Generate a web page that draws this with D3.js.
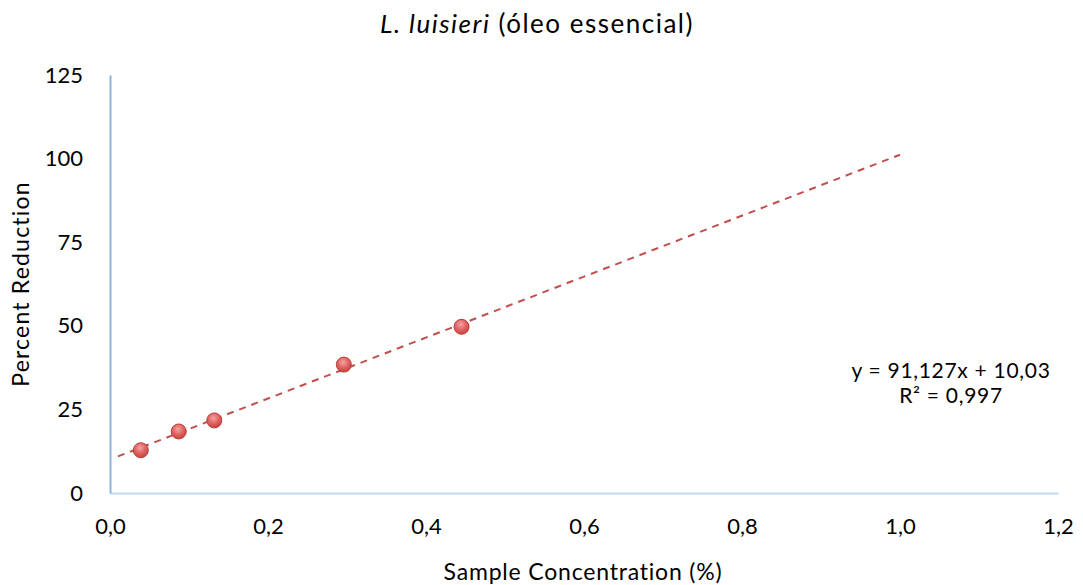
<!DOCTYPE html>
<html>
<head>
<meta charset="utf-8">
<script src="https://cdn.jsdelivr.net/npm/d3@7"></script>
<style>
  body { margin: 0; background: #fff; }
  text { font-family: Lato, "Open Sans", sans-serif; fill: #000; }
</style>
</head>
<body>
<div id="chart"></div>
<script>
// Data
var concentration = [0.039, 0.087, 0.132, 0.296, 0.445]
var reduction = [12.8, 18.4, 21.7, 38.4, 49.7]
var xTicks = [0, 0.2, 0.4, 0.6, 0.8, 1.0, 1.2]
var yTicks = [0, 25, 50, 75, 100, 125]
var slope = 91.127
var intercept = 10.03
var trendRange = [0.01, 1.0]
var equationLines = ["y = 91,127x + 10,03", "R² = 0,997"]

var svgWidth = 1083
var svgHeight = 585

var margin = { top: 75, right: 25, bottom: 92, left: 110 }
var width = svgWidth - margin.left - margin.right
var height = svgHeight - margin.top - margin.bottom

var svg = d3.select("#chart")
  .append("svg")
  .attr("width", svgWidth)
  .attr("height", svgHeight)

var defs = svg.append("defs")
var grad = defs.append("radialGradient")
  .attr("id", "dot")
  .attr("cx", "45%").attr("cy", "35%").attr("r", "65%")
grad.append("stop").attr("offset", "0%").attr("stop-color", "#f3a3a1")
grad.append("stop").attr("offset", "55%").attr("stop-color", "#e06462")
grad.append("stop").attr("offset", "100%").attr("stop-color", "#c9403d")

var chartGroup = svg.append("g")
  .attr("transform", `translate(${margin.left}, ${margin.top})`)

var xScale = d3.scaleLinear().domain([0, 1.2]).range([0, width])
var yScale = d3.scaleLinear().domain([0, 125]).range([height, 0])

var fmt = d3.format(".1f")

// Axes
var xAxis = chartGroup.append("g")
  .attr("transform", `translate(0, ${height})`)
  .call(d3.axisBottom(xScale).tickValues(xTicks).tickSize(0).tickPadding(25)
    .tickFormat(d => fmt(d).replace(".", ",")))
xAxis.select(".domain").attr("stroke", "#c6d9f1").attr("stroke-width", 2)

var yAxis = chartGroup.append("g")
  .call(d3.axisLeft(yScale).tickValues(yTicks).tickSize(0).tickPadding(27))
yAxis.select(".domain").attr("stroke", "#8db3e2").attr("stroke-width", 2)

svg.selectAll(".tick text")
  .style("font-family", "Lato, sans-serif")
  .style("font-size", "22px")
  .attr("fill", "#000")

// Trendline
var trend = trendRange.map(x => [x, slope * x + intercept])
chartGroup.append("path")
  .datum(trend)
  .attr("fill", "none")
  .attr("stroke", "#c0504d")
  .attr("stroke-width", 2)
  .attr("stroke-dasharray", "7,6")
  .attr("d", d3.line().x(d => xScale(d[0])).y(d => yScale(d[1])))

// Points
chartGroup.selectAll("circle")
  .data(concentration)
  .enter()
  .append("circle")
  .attr("cx", d => xScale(d))
  .attr("cy", (d, i) => yScale(reduction[i]))
  .attr("r", 7.5)
  .attr("fill", "url(#dot)")
  .attr("stroke", "#b8403d")
  .attr("stroke-width", 1)

// Title
var title = svg.append("text")
  .attr("x", 537)
  .attr("y", 33)
  .attr("text-anchor", "middle")
  .style("font-size", "26px")
  .style("letter-spacing", "1.5px")
title.append("tspan").style("font-style", "italic").text("L. luisieri")
title.append("tspan").text(" (óleo essencial)")

// Axis titles
svg.append("text")
  .attr("x", 583)
  .attr("y", 580)
  .attr("text-anchor", "middle")
  .style("font-size", "23px")
  .style("letter-spacing", "0.8px")
  .text("Sample Concentration (%)")

svg.append("text")
  .attr("transform", "translate(29, 284) rotate(-90)")
  .attr("text-anchor", "middle")
  .style("font-size", "23px")
  .style("letter-spacing", "1.2px")
  .text("Percent Reduction")

// Equation
svg.selectAll(".eq")
  .data(equationLines)
  .enter()
  .append("text")
  .attr("class", "eq")
  .attr("x", 951)
  .attr("y", (d, i) => 378 + i * 25)
  .attr("text-anchor", "middle")
  .style("font-size", "21px")
  .style("letter-spacing", "0.7px")
  .text(d => d)
</script>
</body>
</html>
